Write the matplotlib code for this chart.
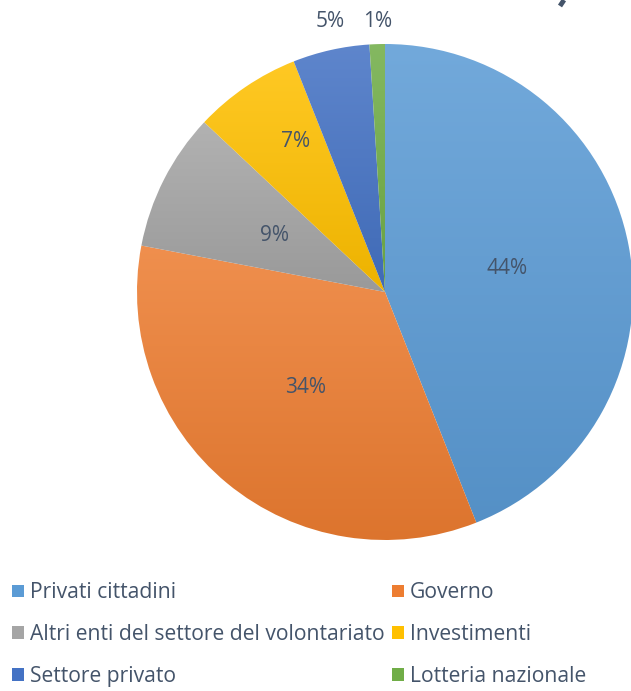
import numpy as np
import matplotlib.pyplot as plt
import matplotlib.colors as mcolors
from matplotlib.patches import Patch
from matplotlib.lines import Line2D

# data
labels = ['Privati cittadini', 'Governo', 'Altri enti del settore del volontariato',
          'Investimenti', 'Settore privato', 'Lotteria nazionale']
values = [44, 34, 9, 7, 5, 1]
colors = ['#5B9BD5', '#ED7D31', '#A5A5A5', '#FFC000', '#4472C4', '#70AD47']

plt.rcParams['font.family'] = ['Open Sans', 'DejaVu Sans']
text_col = '#44546A'


def shade(c, f):
    # f > 0 lighter, f < 0 darker
    r = np.array(mcolors.to_rgb(c))
    if f > 0:
        return r + (1 - r) * f
    return r * (1 + f)


fig = plt.figure(figsize=(6.31, 6.91), dpi=100)
W, H = 631, 691
cx, cy, R = 385, 292, 248
ax = fig.add_axes([(cx - R) / W, 1 - (cy + R) / H, 2 * R / W, 2 * R / H])

wedges, texts = ax.pie(values, colors=colors, startangle=90, counterclock=False,
                       radius=1, center=(0, 0), frame=True)

# office-like vertical gradient on every slice
for w, c in zip(wedges, colors):
    w.set_facecolor('none')
    w.set_edgecolor('none')
    bb = w.get_path().get_extents(w.get_patch_transform())
    grad = np.linspace(0, 1, 256)[:, None]
    top = shade(c, 0.14)
    bot = shade(c, -0.07)
    img = top[None, None, :] * (1 - grad[:, :, None]) + bot[None, None, :] * grad[:, :, None]
    im = ax.imshow(img, extent=[bb.x0, bb.x1, bb.y0, bb.y1], origin='upper',
                   aspect='auto', zorder=1, interpolation='bilinear')
    im.set_clip_path(w)
ax.set_xlim(-1, 1)
ax.set_ylim(-1, 1)
ax.axis('off')

# percent labels
angle = 90.0
total = float(sum(values))
label_r = [0.5, 0.5, 0.5, 0.7, 1.12, 1.12]
for v, r in zip(values, label_r):
    span = 360 * v / total
    mid = np.radians(angle - span / 2)
    angle -= span
    x, y = r * np.cos(mid), r * np.sin(mid)
    if v == 7:
        x, y = -0.36, 0.605
    if v == 5:
        x, y = -0.22, 1.09
    if v == 1:
        x, y = -0.03, 1.09
    ax.text(x, y, '{:}%'.format(v), ha='center', va='center', fontsize=15,
            color=text_col, zorder=5, clip_on=False)

# cut-off title fragment at top right (only a stroke is visible)
fig.add_artist(Line2D([564 / W, 560 / W], [1.0, 1 - 6 / H], color='#44546A',
                      lw=3.5, solid_capstyle='butt'))

order = [0, 2, 4, 1, 3, 5]
handles = [Patch(facecolor=colors[i], edgecolor='none') for i in order]
fig.legend(handles, [labels[i] for i in order], ncol=2, loc='upper left',
           bbox_to_anchor=(6 / W, 1 - 576 / H), frameon=False, fontsize=15.2,
           labelcolor=text_col, handlelength=0.55, handleheight=0.55,
           handletextpad=0.3, columnspacing=0.35, labelspacing=0.98,
           borderaxespad=0, borderpad=0.3)

fig.savefig('out.png', dpi=100)
